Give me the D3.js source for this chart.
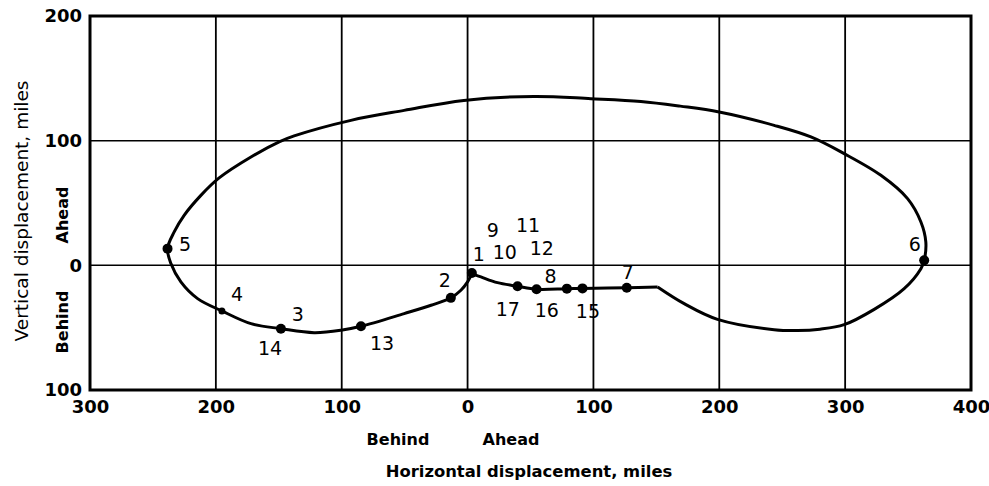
<!DOCTYPE html>
<html>
<head>
<meta charset="utf-8">
<script src="https://cdn.jsdelivr.net/npm/d3@7"></script>
<style>
  html, body { margin: 0; padding: 0; background: #fff; }
  svg { display: block; }
  text { font-family: "DejaVu Sans", sans-serif; fill: #000; }
</style>
</head>
<body>
<svg id="chart" width="989" height="486"></svg>
<script>
// ---- data ----
const xDomain = [-300, 400];
const yDomain = [-100, 200];
const xTicks = [-300, -200, -100, 0, 100, 200, 300, 400];
const yTicks = [-100, 0, 100, 200];
const xGrid = [-200, -100, 0, 100, 200, 300];
const yGrid = [0, 100];

// Main loop: from point 1 around through 5, over the top, through 6, to the kink
const loopPath = [
  [3.4, -6.7], [0, -13.3], [-5.3, -20], [-13.3, -26.1], [-29, -32], [-50.4, -38.7],
  [-84.7, -48.9], [-100.6, -52.1], [-121.9, -54], [-148.3, -50.8], [-172.1, -46.8],
  [-195.2, -36.6], [-214.5, -26.7], [-227.8, -13.3], [-235.7, 1.4], [-238.4, 13.4],
  [-233.1, 26.8], [-225.2, 40.1], [-211.9, 56.1], [-197.4, 70.1], [-172.1, 86.9],
  [-149.7, 99], [-137.8, 103.8], [-92.7, 116.3], [-50.4, 124.3],
  [-3, 132.3], [52.7, 135.5], [98, 133.7], [137.7, 131.5], [169, 127.7], [199.9, 123],
  [243.6, 112.3], [272.8, 103], [299.2, 89.6], [328.4, 72.2], [349.6, 53.5],
  [360.2, 34.8], [364.1, 18.8], [362.8, 4], [360.2, -2.7], [346.9, -18.7],
  [323.1, -35.3], [299.2, -47.6], [280, -51.2], [262.2, -52.3], [243.6, -51.6], [198.6, -43.3],
  [172.1, -30.7], [151, -17.3]
];
// Return leg: from the kink back along the flat stretch to point 1
const returnPath = [
  [151, -17.3], [126.5, -18], [91.3, -18.5], [78.9, -18.7], [54.8, -19.2],
  [39.7, -16.8], [23.8, -13.9], [10.6, -9.3], [3.4, -6.7]
];

// marked points
const markerX = [3.4, -13.3, -84.7, -148.3, -238.4, 362.8, 126.5, 91.3, 78.9, 54.8, 39.7];
const markerY = [-6.2, -26.1, -48.9, -50.8, 13.4, 4, -18, -18.5, -18.7, -19.2, -16.8];
const smallMarkerX = [-195.2];
const smallMarkerY = [-36.6];

// point labels
const labelText = ["1", "2", "3", "4", "5", "6", "7", "8", "9", "10", "11", "12", "13", "14", "15", "16", "17"];
const labelX = [9, -18, -134.8, -183.2, -224.5, 355.4, 127.4, 66, 20, 29.6, 48, 59, -68, -157, 95.6, 63, 32];
const labelY = [9.4, -11.5, -38.8, -22.7, 17.4, 17.4, -5, -8.3, 28.6, 11, 32.6, 14.2, -62, -66, -36.3, -35.5, -34.7];

// ---- drawing ----
const svg = d3.select("#chart");
const x = d3.scaleLinear().domain(xDomain).range([90, 971]);
const y = d3.scaleLinear().domain(yDomain).range([390, 16]);

// grid
svg.append("g").selectAll("line").data(xGrid).join("line")
  .attr("x1", d => x(d)).attr("x2", d => x(d))
  .attr("y1", y(yDomain[1])).attr("y2", y(yDomain[0]))
  .attr("stroke", "#000").attr("stroke-width", 1.8);
svg.append("g").selectAll("line").data(yGrid).join("line")
  .attr("x1", x(xDomain[0])).attr("x2", x(xDomain[1]))
  .attr("y1", d => y(d)).attr("y2", d => y(d))
  .attr("stroke", "#000").attr("stroke-width", 1.5);

// frame
svg.append("rect")
  .attr("x", x(xDomain[0])).attr("y", y(yDomain[1]))
  .attr("width", x(xDomain[1]) - x(xDomain[0]))
  .attr("height", y(yDomain[0]) - y(yDomain[1]))
  .attr("fill", "none").attr("stroke", "#000").attr("stroke-width", 3);

// axes (tick labels only)
const xAxis = d3.axisBottom(x).tickValues(xTicks).tickSize(0).tickPadding(10)
  .tickFormat(d => Math.abs(d));
const gx = svg.append("g").attr("transform", `translate(0,${y(yDomain[0])})`).call(xAxis);
gx.select(".domain").remove();
gx.selectAll("text").attr("font-size", 18).attr("font-weight", "bold")
  .attr("font-family", "DejaVu Sans").attr("fill", "#000");

const yAxis = d3.axisLeft(y).tickValues(yTicks).tickSize(0).tickPadding(8)
  .tickFormat(d => Math.abs(d));
const gy = svg.append("g").attr("transform", `translate(${x(xDomain[0])},0)`).call(yAxis);
gy.select(".domain").remove();
gy.selectAll("text").attr("font-size", 18).attr("font-weight", "bold")
  .attr("font-family", "DejaVu Sans").attr("fill", "#000");

// curve
const line = d3.line().x(d => x(d[0])).y(d => y(d[1])).curve(d3.curveCatmullRom.alpha(0.5));
[loopPath, returnPath].forEach(p => {
  svg.append("path").attr("d", line(p))
    .attr("fill", "none").attr("stroke", "#000").attr("stroke-width", 3)
    .attr("stroke-linejoin", "round");
});

// markers
svg.append("g").selectAll("circle").data(markerX).join("circle")
  .attr("cx", d => x(d)).attr("cy", (d, i) => y(markerY[i])).attr("r", 5).attr("fill", "#000");
svg.append("g").selectAll("circle").data(smallMarkerX).join("circle")
  .attr("cx", d => x(d)).attr("cy", (d, i) => y(smallMarkerY[i])).attr("r", 3.5).attr("fill", "#000");

// point labels
svg.append("g").selectAll("text").data(labelText).join("text")
  .attr("x", (d, i) => x(labelX[i])).attr("y", (d, i) => y(labelY[i]))
  .attr("text-anchor", "middle").attr("dominant-baseline", "central")
  .attr("font-size", 19)
  .text(d => d);

// side labels
svg.append("text").attr("transform", "translate(62,215) rotate(-90)")
  .attr("text-anchor", "middle").attr("dominant-baseline", "central")
  .attr("font-size", 16).attr("font-weight", "bold").text("Ahead");
svg.append("text").attr("transform", "translate(62,322) rotate(-90)")
  .attr("text-anchor", "middle").attr("dominant-baseline", "central")
  .attr("font-size", 16).attr("font-weight", "bold").text("Behind");
svg.append("text").attr("transform", "translate(21,211) rotate(-90)")
  .attr("text-anchor", "middle").attr("dominant-baseline", "central")
  .attr("font-size", 18.5).text("Vertical displacement, miles");

svg.append("text").attr("x", 398).attr("y", 439)
  .attr("text-anchor", "middle").attr("dominant-baseline", "central")
  .attr("font-size", 16).attr("font-weight", "bold").text("Behind");
svg.append("text").attr("x", 511).attr("y", 439)
  .attr("text-anchor", "middle").attr("dominant-baseline", "central")
  .attr("font-size", 16).attr("font-weight", "bold").text("Ahead");
svg.append("text").attr("x", 529).attr("y", 471)
  .attr("text-anchor", "middle").attr("dominant-baseline", "central")
  .attr("font-size", 16.4).attr("font-weight", "bold").text("Horizontal displacement, miles");
</script>
</body>
</html>
